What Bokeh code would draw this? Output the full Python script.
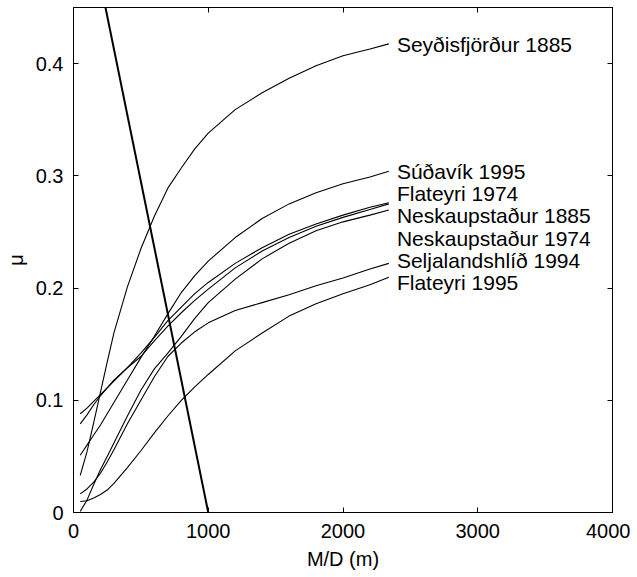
from bokeh.plotting import figure
from bokeh.models import LinearAxis, FixedTicker, CustomJSTickFormatter, Range1d
from bokeh.core.properties import value
from bokeh.embed import file_html
from bokeh.resources import INLINE

# M/D (m) sample positions
md = [50, 100, 150, 200, 250, 300, 400, 500, 600, 700, 800, 900, 1000,
      1200, 1400, 1600, 1800, 2000, 2200, 2340]

seydisfjordur_1885 = [0.033, 0.054, 0.080, 0.107, 0.134, 0.160, 0.201, 0.235, 0.264, 0.289,
                      0.307, 0.324, 0.338, 0.359, 0.374, 0.387, 0.398, 0.407, 0.413, 0.4176]
sudavik_1995 = [0.051, 0.060, 0.069, 0.078, 0.088, 0.098, 0.118, 0.138, 0.157, 0.177,
                0.196, 0.211, 0.224, 0.245, 0.262, 0.275, 0.285, 0.293, 0.299, 0.304]
flateyri_1974 = [0.088, 0.093, 0.099, 0.105, 0.111, 0.117, 0.129, 0.142, 0.156, 0.171,
                 0.183, 0.195, 0.205, 0.222, 0.236, 0.248, 0.257, 0.265, 0.272, 0.276]
neskaupstadur_1885 = [0.079, 0.087, 0.096, 0.104, 0.111, 0.118, 0.129, 0.139, 0.153, 0.166,
                      0.178, 0.189, 0.199, 0.218, 0.233, 0.245, 0.255, 0.263, 0.270, 0.275]
neskaupstadur_1974 = [0.001, 0.011, 0.025, 0.038, 0.050, 0.062, 0.086, 0.109, 0.128, 0.142,
                      0.157, 0.173, 0.187, 0.208, 0.226, 0.240, 0.251, 0.259, 0.265, 0.2695]
seljalandshlid_1994 = [0.0166, 0.021, 0.027, 0.035, 0.045, 0.056, 0.079, 0.100, 0.121, 0.139,
                       0.151, 0.161, 0.169, 0.180, 0.187, 0.194, 0.202, 0.209, 0.217, 0.222]
flateyri_1995 = [0.0098, 0.0105, 0.013, 0.016, 0.020, 0.026, 0.040, 0.055, 0.071, 0.086,
                 0.100, 0.112, 0.123, 0.144, 0.160, 0.175, 0.186, 0.195, 0.203, 0.2096]

# straight line
line_md = [0, 1000]
line_mu = [0.59, 0.0]

label_names = ["Seyðisfjörður 1885", "Súðavík 1995", "Flateyri 1974", "Neskaupstaður 1885",
               "Neskaupstaður 1974", "Seljalandshlíð 1994", "Flateyri 1995"]
label_md = [2400, 2400, 2400, 2400, 2400, 2400, 2400]
label_mu = [0.4166, 0.304, 0.2842, 0.2643, 0.2445, 0.2246, 0.2048]

x_ticks = [0, 1000, 2000, 3000, 4000]
y_ticks = [0, 0.1, 0.2, 0.3, 0.4]

FONT = "Liberation Sans"

p = figure(width=630, height=576, output_backend="svg", toolbar_location=None,
           x_range=Range1d(0, 4000), y_range=Range1d(0, 0.45),
           min_border_left=73, min_border_top=7, min_border_right=18, min_border_bottom=64)
p.background_fill_color = "white"
p.border_fill_color = "white"
p.outline_line_color = "black"
p.outline_line_width = 1
p.grid.visible = False

for ax in (p.xaxis[0], p.yaxis[0]):
    ax.major_tick_in = 5
    ax.major_tick_out = 0
    ax.minor_tick_line_color = None
    ax.axis_line_color = "black"
    ax.major_tick_line_color = "black"
    ax.major_label_text_font = FONT
    ax.major_label_text_font_size = "20px"
    ax.major_label_text_color = "black"
    ax.axis_label_text_font = FONT
    ax.axis_label_text_font_size = "20px"
    ax.axis_label_text_font_style = "normal"
    ax.axis_label_text_color = "black"

p.xaxis.ticker = FixedTicker(ticks=x_ticks)
p.xaxis.major_label_standoff = 11
p.xaxis.axis_label = "M/D (m)"
p.xaxis.axis_label_standoff = 7

p.yaxis.ticker = FixedTicker(ticks=y_ticks)
p.yaxis.formatter = CustomJSTickFormatter(code="return tick == 0 ? '0' : tick.toFixed(1);")
p.yaxis.major_label_standoff = 10
p.yaxis.axis_label = "μ"
p.yaxis.axis_label_standoff = 6

def tick_only_axis(ticks):
    return LinearAxis(ticker=FixedTicker(ticks=ticks),
                      formatter=CustomJSTickFormatter(code="return '';"),
                      major_label_text_font_size="0px", major_label_standoff=0,
                      major_tick_in=5, major_tick_out=0, minor_tick_line_color=None,
                      axis_line_color="black", major_tick_line_color="black")

p.add_layout(tick_only_axis(x_ticks), "above")
p.add_layout(tick_only_axis(y_ticks), "right")

for ys in (seydisfjordur_1885, sudavik_1995, flateyri_1974, neskaupstadur_1885,
           neskaupstadur_1974, seljalandshlid_1994, flateyri_1995):
    p.line(md, ys, line_color="black", line_width=1.1)

p.line(line_md, line_mu, line_color="black", line_width=2)

p.text(x=label_md, y=label_mu, text=label_names, text_font=value(FONT),
       text_font_size=value("21px"), text_baseline="middle", text_align="left",
       text_color="black")

open("out.html", "w").write(file_html(p, INLINE))
